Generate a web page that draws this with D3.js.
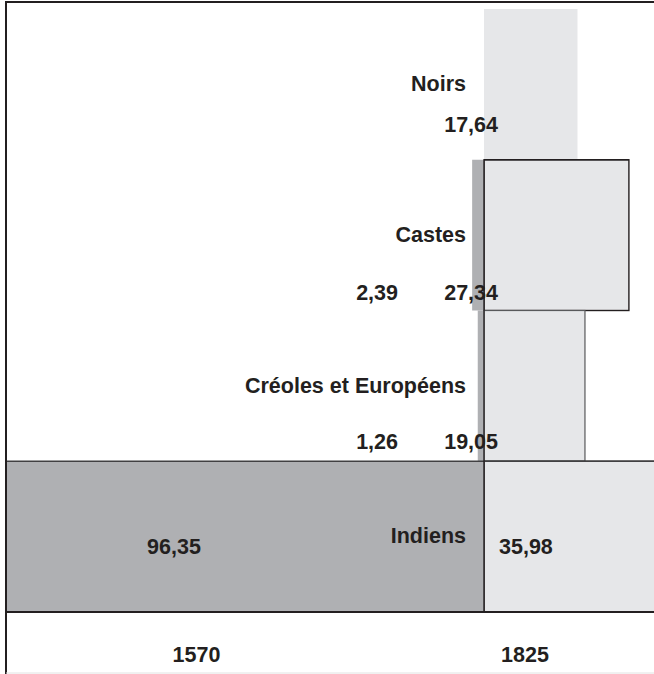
<!DOCTYPE html>
<html>
<head>
<meta charset="utf-8">
<script src="https://cdn.jsdelivr.net/npm/d3@7"></script>
<style>
html,body{margin:0;padding:0;background:#fff;}
svg{display:block;}
text{font-family:"Liberation Sans",Arial,Helvetica,sans-serif;font-weight:bold;font-size:21.5px;fill:#231f20;}
</style>
</head>
<body>
<svg id="chart" width="654" height="674"></svg>
<script>
// ---- data ----
const categories = ["Noirs", "Castes", "Créoles et Européens", "Indiens"];
const years = ["1570", "1825"];
const values1570 = [null, 2.39, 1.26, 96.35];
const values1825 = [17.64, 27.34, 19.05, 35.98];
const labels1570 = ["", "2,39", "1,26", "96,35"];
const labels1825 = ["17,64", "27,34", "19,05", "35,98"];

// ---- layout ----
const W = 654, H = 674, axisX = 484;
const svg = d3.select("#chart");
const y = d3.scaleBand().domain(categories).range([9, 612]).padding(0);
const x1570 = d3.scaleLinear().domain([0, 100]).range([axisX, axisX - 496]);
const x1825 = d3.scaleLinear().domain([0, 100]).range([axisX, axisX + 530]);
const valueDy = [123, 140, 138.5, 93];
const dark = "#afb0b3", light = "#e6e7e9", ink = "#231f20";

const rows = categories.map((c, i) => ({c, i, v0: values1570[i], v1: values1825[i]}));

// 1825 bars
const g = svg.append("g");
g.selectAll("rect.b1825").data(rows).join("rect")
  .attr("class", "b1825")
  .attr("x", axisX)
  .attr("y", d => y(d.c))
  .attr("width", d => x1825(d.v1) - axisX)
  .attr("height", y.bandwidth())
  .attr("fill", light)
  .attr("stroke", d => d.i === 0 ? "none" : (d.i === 2 ? "#58595b" : ink))
  .attr("stroke-width", d => d.i === 2 ? 1.2 : 1.4);

// 1570 bars
g.selectAll("rect.b1570").data(rows.filter(d => d.v0 != null)).join("rect")
  .attr("class", "b1570")
  .attr("x", d => x1570(d.v0))
  .attr("y", d => y(d.c))
  .attr("width", d => axisX - x1570(d.v0))
  .attr("height", y.bandwidth())
  .attr("fill", dark);

// re-draw strokes of castes box top over
const castes = rows[1];
g.append("line").attr("x1", axisX).attr("x2", x1825(castes.v1))
  .attr("y1", y(castes.c)).attr("y2", y(castes.c)).attr("stroke", ink).attr("stroke-width", 1.4);

// horizontal lines
const yInd = y("Indiens");
g.append("line").attr("x1", 6).attr("x2", W).attr("y1", yInd).attr("y2", yInd)
  .attr("stroke", "#414042").attr("stroke-width", 1.4);
g.append("line").attr("x1", 6).attr("x2", W).attr("y1", yInd + y.bandwidth()).attr("y2", yInd + y.bandwidth())
  .attr("stroke", ink).attr("stroke-width", 2);
// vertical divider
g.append("line").attr("x1", axisX).attr("x2", axisX).attr("y1", y("Castes")).attr("y2", yInd + y.bandwidth())
  .attr("stroke", ink).attr("stroke-width", 1.4);

// frame
g.append("line").attr("x1", 6).attr("x2", 6).attr("y1", 1).attr("y2", H).attr("stroke", ink).attr("stroke-width", 2);
g.append("line").attr("x1", 5).attr("x2", W).attr("y1", 2).attr("y2", 2).attr("stroke", ink).attr("stroke-width", 2);
g.append("line").attr("x1", 6).attr("x2", W).attr("y1", 673).attr("y2", 673).attr("stroke", "#e2e2e2").attr("stroke-width", 1);

// category labels
g.selectAll("text.cat").data(rows).join("text")
  .attr("class", "cat")
  .attr("x", 466)
  .attr("y", d => y(d.c) + 82)
  .attr("text-anchor", "end")
  .text(d => d.c);

// 1825 value labels
g.selectAll("text.v1825").data(rows).join("text")
  .attr("class", "v1825")
  .attr("x", d => d.i === 3 ? axisX + 15 : axisX + 14)
  .attr("y", d => y(d.c) + valueDy[d.i])
  .attr("text-anchor", d => d.i === 3 ? "start" : "end")
  .text(d => labels1825[d.i]);

// 1570 value labels
g.selectAll("text.v1570").data(rows.filter(d => d.v0 != null)).join("text")
  .attr("class", "v1570")
  .attr("x", d => d.i === 3 ? 174 : 398)
  .attr("y", d => y(d.c) + valueDy[d.i])
  .attr("text-anchor", d => d.i === 3 ? "middle" : "end")
  .text(d => labels1570[d.i]);

// year labels
const yearX = [196.5, 525];
g.selectAll("text.year").data(years).join("text")
  .attr("class", "year")
  .attr("x", (d, i) => yearX[i])
  .attr("y", 661.5)
  .attr("text-anchor", "middle")
  .text(d => d);
</script>
</body>
</html>
